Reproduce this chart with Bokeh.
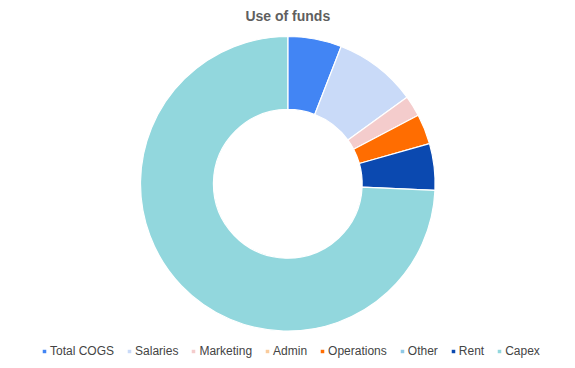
import math
from bokeh.plotting import figure
from bokeh.models import ColumnDataSource, Range1d, Legend, LegendItem, Label
from bokeh.embed import file_html
from bokeh.resources import INLINE

categories = ["Total COGS", "Salaries", "Marketing", "Admin", "Operations", "Other", "Rent", "Capex"]
values = [5.9, 9.1, 2.3, 0.0, 3.3, 0.0, 5.1, 74.3]
colors = ["#4285f4", "#c9daf8", "#f4cccc", "#f9cb9c", "#ff6d01", "#8fc9e6", "#0b49b0", "#92d7dd"]

total = sum(values)
starts, ends = [], []
cum = 0.0
for v in values:
    s = math.pi / 2 - 2 * math.pi * cum / total
    cum += v
    e = math.pi / 2 - 2 * math.pi * cum / total
    if v == 0:
        s = e = float("nan")  # empty slice: nothing drawn, legend entry only
    starts.append(s)
    ends.append(e)

src = ColumnDataSource(dict(cat=categories, val=values, color=colors,
                            start=starts, end=ends,
                            x=[0.0] * len(values), y=[0.0] * len(values)))

W, H = 575, 368
R = 147.3
cx, cy = 287.3, 184.7  # donut centre in pixels from left / bottom

p = figure(width=W, height=H, output_backend="svg", toolbar_location=None,
           x_range=Range1d(-cx / R, (W - cx) / R), y_range=Range1d(-cy / R, (H - cy) / R),
           min_border=0, outline_line_color=None)
p.axis.visible = False
p.grid.visible = False
p.background_fill_color = "white"
p.border_fill_color = "white"

r = p.annular_wedge(x="x", y="y", inner_radius=0.505, outer_radius=1.0,
                    start_angle="start", end_angle="end", direction="clock",
                    fill_color="color", line_color="white", line_width=1.2,
                    source=src)

items = [LegendItem(label=c, renderers=[r], index=i) for i, c in enumerate(categories)]
legend = Legend(items=items, orientation="horizontal", location=(41, 10),
                glyph_width=6, glyph_height=6, label_standoff=3, spacing=12,
                label_text_font="Liberation Sans", label_text_font_size="12px",
                label_text_color="#444444", label_height=12, label_width=10,
                padding=0, margin=0,
                border_line_alpha=0, background_fill_alpha=0)
p.add_layout(legend)

title = Label(x=0, y=(H - 15.5 - cy) / R, text="Use of funds", text_align="center",
              text_baseline="middle", text_font="Liberation Sans", text_font_style="bold",
              text_font_size="14px", text_color="#5f5f5f")
p.add_layout(title)

open("out.html", "w").write(file_html(p, INLINE))
